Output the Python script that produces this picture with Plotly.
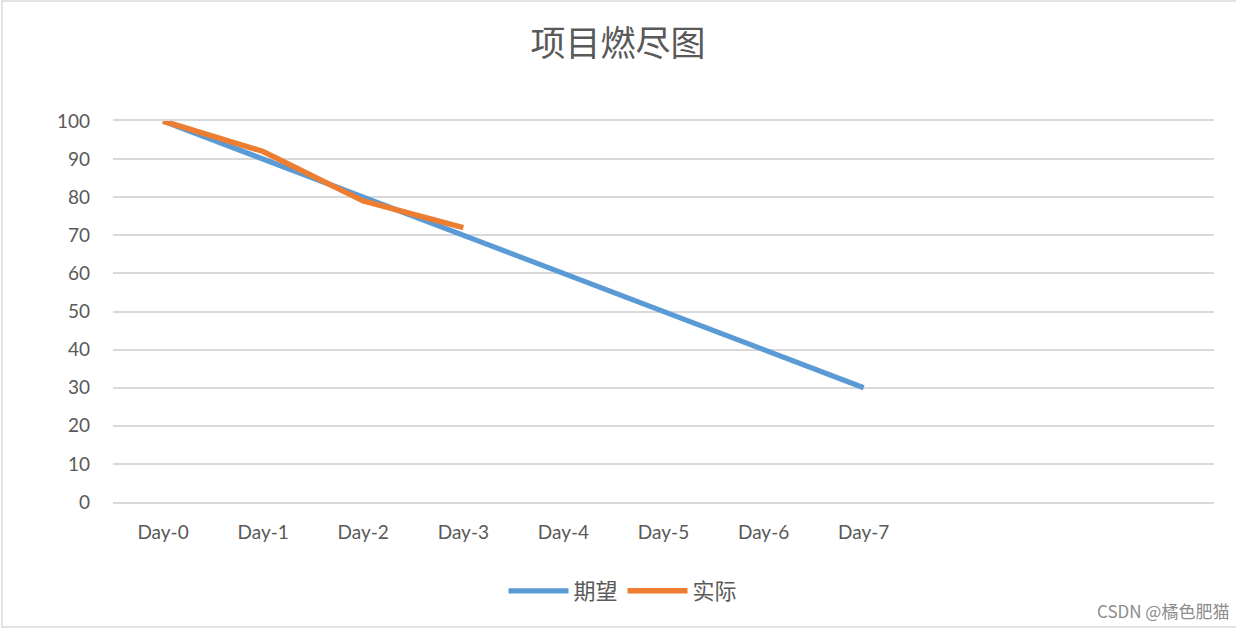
import plotly.graph_objects as go

categories = ["Day-0", "Day-1", "Day-2", "Day-3", "Day-4", "Day-5", "Day-6", "Day-7"]
expected = [100, 90, 80, 70, 60, 50, 40, 30]
actual = [100, 92, 79, 72]
y_ticks = [0, 10, 20, 30, 40, 50, 60, 70, 80, 90, 100]
n_slots = 11  # category slots on the axis (last three empty)

TEXT = "#595959"
GRID = "#d9d9d9"
FONT = "Lato, Noto Sans CJK SC, sans-serif"
CJK = "Noto Sans CJK SC, sans-serif"

L, R, T, B = 113, 22, 121, 127
PW, PH = 1236 - L - R, 629 - T - B

fig = go.Figure()
fig.add_trace(go.Scatter(x=categories, y=expected, mode="lines", name="期望",
                         line=dict(color="#5b9bd5", width=5.2), cliponaxis=False))
fig.add_trace(go.Scatter(x=categories[:len(actual)], y=actual, mode="lines", name="实际",
                         line=dict(color="#ed7d31", width=5.5), cliponaxis=False))

def px_x(x):
    return (x - L) / PW

def px_y(y):
    return (629 - B - y) / PH

fig.update_layout(
    width=1236, height=629,
    margin=dict(l=L, r=R, t=T, b=B),
    paper_bgcolor="white", plot_bgcolor="white",
    font=dict(family=FONT, color=TEXT, size=19),
    title=dict(text="项目燃尽图", x=0.5, xanchor="center", y=1 - 44 / 629, yanchor="middle",
               font=dict(family=CJK, size=35, color=TEXT)),
    showlegend=True,
    legend=dict(orientation="h", x=px_x(623), xanchor="center", y=px_y(591), yanchor="middle",
                font=dict(family=CJK, size=22, color=TEXT), itemwidth=60,
                bgcolor="rgba(0,0,0,0)"),
    xaxis=dict(type="category", categoryarray=categories, range=[-0.5, n_slots - 0.5],
               showgrid=False, zeroline=False, showline=True, mirror=True,
               linecolor=GRID, linewidth=1.5,
               ticks="", ticklabelstandoff=12, tickfont=dict(family=FONT, size=19, color=TEXT)),
    yaxis=dict(range=[0, 100], tickvals=y_ticks, showgrid=True, gridcolor=GRID, gridwidth=1.5,
               zeroline=False, showline=False, ticks="", ticklabelstandoff=22,
               tickfont=dict(family=FONT, size=19, color=TEXT)),
    annotations=[dict(text="CSDN @橘色肥猫", xref="paper", yref="paper",
                      x=px_x(1231), y=px_y(610), xanchor="right",
                      yanchor="middle", showarrow=False,
                      font=dict(family=CJK, size=17, color="#8c8c8c"))],
    shapes=[dict(type="rect", xref="paper", yref="paper",
                 x0=px_x(2), x1=px_x(1240), y0=px_y(627), y1=px_y(1),
                 line=dict(color="#d9d9d9", width=1.5), layer="below")],
)

fig.write_html("out.html", config={"displayModeBar": False},
               post_script="document.body.style.margin='0px';document.body.style.overflow='hidden';")
